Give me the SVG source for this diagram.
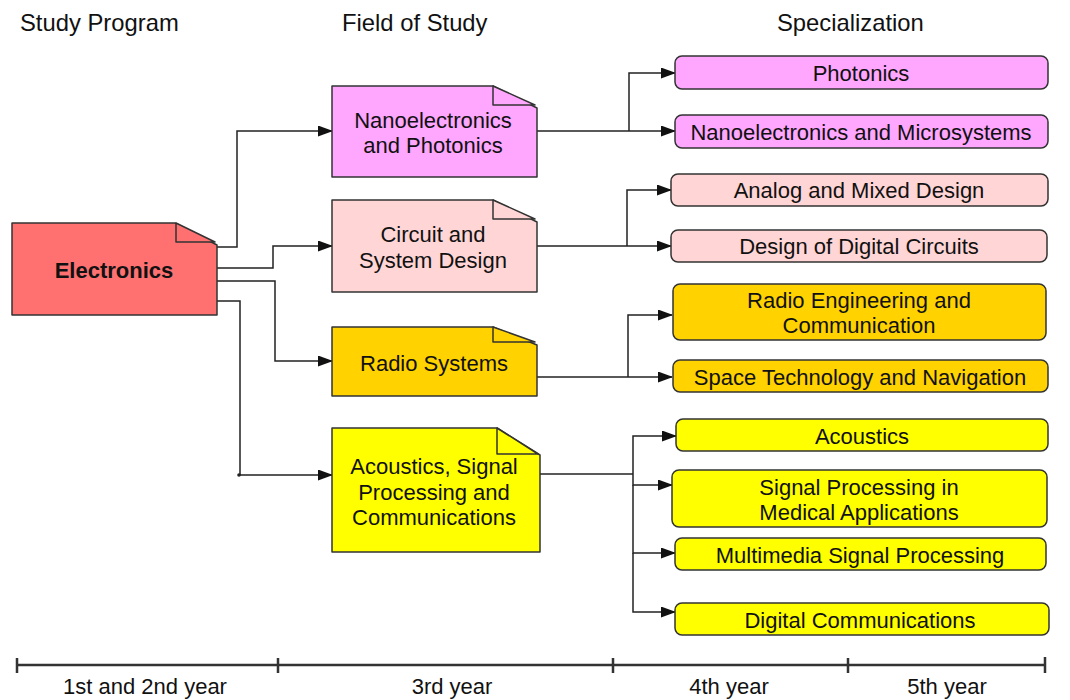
<svg xmlns="http://www.w3.org/2000/svg" width="1070" height="700" viewBox="0 0 1070 700">
  <defs>
    <marker id="arrow" markerWidth="15" markerHeight="11" refX="14" refY="5.5" orient="auto" markerUnits="userSpaceOnUse">
      <path d="M0,0 L15,5.5 L0,11 Z" fill="#111"/>
    </marker>
    <style>
      text { font-family: "Liberation Sans", Arial, sans-serif; font-size: 22px; fill: #111; text-anchor: middle; }
      .hdr { font-size: 23.8px; text-anchor: start; }
      .bold { font-weight: bold; }
      .shape { stroke: #333; stroke-width: 1.5; stroke-linejoin: round; }
      .conn { fill: none; stroke: #222; stroke-width: 1.5; }
      .axis { fill: none; stroke: #333; stroke-width: 2.5; }
      .magenta { fill: #FFA6FF; }
      .pink { fill: #FFD5D5; }
      .gold { fill: #FFD200; }
      .yellow { fill: #FFFF00; }
      .red { fill: #FF7171; }
    </style>
  </defs>

  <!-- column headings -->
  <text class="hdr" x="20" y="31">Study Program</text>
  <text class="hdr" x="342" y="31">Field of Study</text>
  <text class="hdr" x="777" y="31">Specialization</text>

  <!-- connectors -->
  <g id="connectors">
    <path class="conn" d="M217,247 H237 V131 H332" marker-end="url(#arrow)"/>
    <path class="conn" d="M217,268 H273 V246 H332" marker-end="url(#arrow)"/>
    <path class="conn" d="M217,281 H275 V361 H332" marker-end="url(#arrow)"/>
    <path class="conn" d="M217,301 H240 V475 H332" marker-end="url(#arrow)"/>
    <circle cx="239" cy="475" r="1.8" fill="#222"/>

    <path class="conn" d="M537,131 H675" marker-end="url(#arrow)"/>
    <path class="conn" d="M629,131 V73 H675" marker-end="url(#arrow)"/>

    <path class="conn" d="M537,246 H671" marker-end="url(#arrow)"/>
    <path class="conn" d="M627,246 V190 H671" marker-end="url(#arrow)"/>

    <path class="conn" d="M537,377 H672" marker-end="url(#arrow)"/>
    <path class="conn" d="M628,377 V315 H672" marker-end="url(#arrow)"/>

    <path class="conn" d="M540,474 H633" />
    <path class="conn" d="M633,474 V436 H676" marker-end="url(#arrow)"/>
    <path class="conn" d="M633,474 V485 H672" marker-end="url(#arrow)"/>
    <path class="conn" d="M633,485 V553 H675" marker-end="url(#arrow)"/>
    <path class="conn" d="M633,553 V612 H675" marker-end="url(#arrow)"/>
  </g>

  <!-- study program -->
  <g id="electronics">
    <path class="shape red" d="M12,223 H175 L217,245 V315 H12 Z"/>
    <path class="shape red" d="M176,223 V242 H215 Z"/>
    <text class="bold" x="114" y="278">Electronics</text>
  </g>

  <!-- fields of study -->
  <g id="field-nano">
    <path class="shape magenta" d="M332,86 H493 L537,108 V177 H332 Z"/>
    <path class="shape magenta" d="M493,86 V105 H535 Z"/>
    <text x="433" y="128">Nanoelectronics</text>
    <text x="433" y="153">and Photonics</text>
  </g>
  <g id="field-circuit">
    <path class="shape pink" d="M332,200 H493 L537,222 V292 H332 Z"/>
    <path class="shape pink" d="M493,200 V219 H535 Z"/>
    <text x="433" y="242">Circuit and</text>
    <text x="433" y="268">System Design</text>
  </g>
  <g id="field-radio">
    <path class="shape gold" d="M332,327 H493 L537,345 V396 H332 Z"/>
    <path class="shape gold" d="M493,327 V342 H535 Z"/>
    <text x="434" y="371">Radio Systems</text>
  </g>
  <g id="field-acoustics">
    <path class="shape yellow" d="M332,428 H497 L540,455 V552 H332 Z"/>
    <path class="shape yellow" d="M497,428 V454 H538 Z"/>
    <text x="434" y="474">Acoustics, Signal</text>
    <text x="434" y="500">Processing and</text>
    <text x="434" y="525">Communications</text>
  </g>

  <!-- specializations -->
  <g id="spec-photonics">
    <rect class="shape magenta" x="675" y="56" width="373" height="33" rx="7"/>
    <text x="861" y="81">Photonics</text>
  </g>
  <g id="spec-nanomicro">
    <rect class="shape magenta" x="675" y="115" width="373" height="33" rx="7"/>
    <text x="861" y="140">Nanoelectronics and Microsystems</text>
  </g>
  <g id="spec-analog">
    <rect class="shape pink" x="671" y="174" width="377" height="32" rx="7"/>
    <text x="859" y="198">Analog and Mixed Design</text>
  </g>
  <g id="spec-digital-circuits">
    <rect class="shape pink" x="671" y="230" width="376" height="32" rx="7"/>
    <text x="859" y="254">Design of Digital Circuits</text>
  </g>
  <g id="spec-radio-eng">
    <rect class="shape gold" x="673" y="284" width="373" height="56" rx="7"/>
    <text x="859" y="308">Radio Engineering and</text>
    <text x="859" y="333">Communication</text>
  </g>
  <g id="spec-space">
    <rect class="shape gold" x="673" y="360" width="375" height="32" rx="7"/>
    <text x="860" y="385">Space Technology and Navigation</text>
  </g>
  <g id="spec-acoustics">
    <rect class="shape yellow" x="676" y="419" width="372" height="32" rx="7"/>
    <text x="862" y="444">Acoustics</text>
  </g>
  <g id="spec-medical">
    <rect class="shape yellow" x="672" y="470" width="375" height="57" rx="7"/>
    <text x="859" y="495">Signal Processing in</text>
    <text x="859" y="520">Medical Applications</text>
  </g>
  <g id="spec-multimedia">
    <rect class="shape yellow" x="675" y="538" width="371" height="32" rx="7"/>
    <text x="860" y="563">Multimedia Signal Processing</text>
  </g>
  <g id="spec-digicomm">
    <rect class="shape yellow" x="675" y="603" width="374" height="32" rx="7"/>
    <text x="860" y="628">Digital Communications</text>
  </g>

  <!-- timeline -->
  <g id="timeline">
    <path class="axis" d="M17,665 H1045"/>
    <path class="axis" d="M17,658 V673 M278,658 V673 M613,658 V673 M848,658 V673 M1045,657 V673"/>
    <text x="145" y="694">1st and 2nd year</text>
    <text x="452" y="694">3rd year</text>
    <text x="729" y="694">4th year</text>
    <text x="947" y="694">5th year</text>
  </g>
</svg>
